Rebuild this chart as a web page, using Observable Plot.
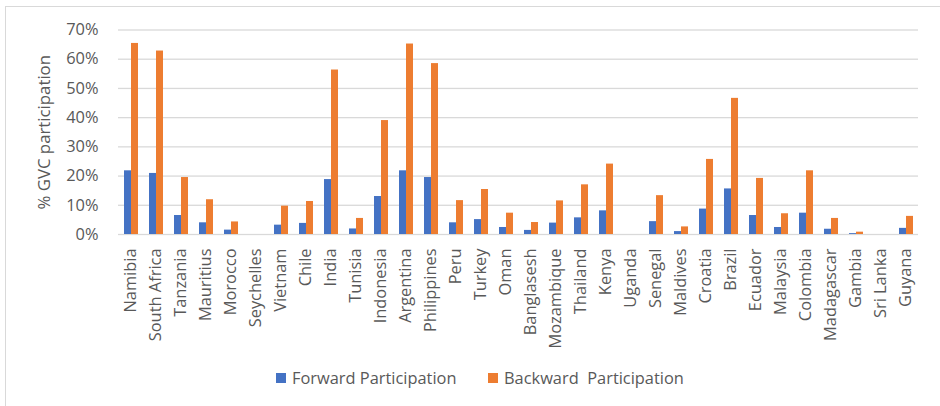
<!DOCTYPE html>
<html>
<head>
<meta charset="utf-8">
<script src="https://cdn.jsdelivr.net/npm/d3@7"></script>
<script src="https://cdn.jsdelivr.net/npm/@observablehq/plot@0.6"></script>
<style>
  html, body { margin: 0; padding: 0; background: #fff; width: 940px; height: 406px; overflow: hidden; }
  #frame { position: absolute; left: 5px; top: 6px; width: 1000px; height: 500px;
           border-left: 1.5px solid #d9d9d9; border-top: 1.5px solid #d9d9d9; }
  #chart { position: absolute; left: 0; top: 0; }
  #legend { position: absolute; left: 0; top: 366px; width: 940px;
            font-family: 'Open Sans', sans-serif; font-size: 16.4px; color: #595959; white-space: pre; }
  .item { display: flex; align-items: center; position: absolute; top: 0; }
  .sw { width: 10px; height: 10px; margin-right: 6px; }
</style>
</head>
<body>
<div id="frame"></div>
<div id="chart"></div>
<div id="legend"></div>
<script>
const countries = ["Namibia","South Africa","Tanzania","Mauritius","Morocco","Seychelles","Vietnam","Chile","India","Tunisia","Indonesia","Argentina","Philippines","Peru","Turkey","Oman","Banglasesh","Mozambique","Thailand","Kenya","Uganda","Senegal","Maldives","Croatia","Brazil","Ecuador","Malaysia","Colombia","Madagascar","Gambia","Sri Lanka","Guyana"];
const forward  = [21.8,20.9,6.5,4.0,1.5,0,3.2,3.8,18.8,1.9,13.0,21.8,19.5,4.0,5.1,2.4,1.4,3.9,5.7,8.1,0,4.4,1.0,8.7,15.6,6.5,2.4,7.3,1.8,0.3,0,2.1];
const backward = [65.4,62.8,19.5,11.9,4.3,0,9.7,11.3,56.3,5.5,39.0,65.2,58.5,11.6,15.4,7.3,4.1,11.5,17.0,24.1,0,13.3,2.6,25.7,46.6,19.2,7.1,21.8,5.5,0.8,0,6.2];
const seriesNames = ["Forward Participation", "Backward  Participation"];
const seriesColors = ["#4472C4", "#ED7D31"];
const yTicks = [0,10,20,30,40,50,60,70];
const yTitle = "% GVC participation";

const data = [];
countries.forEach((c, i) => {
  data.push({country: c, series: seriesNames[0], value: forward[i] / 100});
  data.push({country: c, series: seriesNames[1], value: backward[i] / 100});
});

const chart = Plot.plot({
  width: 940,
  height: 352,
  marginTop: 29.5,
  marginBottom: 118,
  marginLeft: 113,
  marginRight: 17,
  style: {fontFamily: "'Open Sans', sans-serif", fontSize: "16.4px", color: "#595959", background: "transparent"},
  fx: {domain: countries, padding: 0},
  x: {domain: seriesNames, paddingInner: 0, paddingOuter: 0.73, axis: null},
  y: {domain: [0, 0.7]},
  color: {domain: seriesNames, range: seriesColors},
  marks: [
    Plot.ruleY(yTicks.map(d => d / 100), {stroke: "#d9d9d9", strokeWidth: 1.3, strokeOpacity: 1}),
    Plot.barY(data, {fx: "country", x: "series", y: "value", fill: "series"}),
    Plot.axisY({ticks: yTicks.map(d => d / 100), tickFormat: d => Math.round(d * 100) + "%", tickSize: 0, tickPadding: 20,
      fontSize: 16.4, label: yTitle, labelArrow: "none", labelAnchor: "center", labelOffset: 80}),
    Plot.axisFx({anchor: "bottom", tickRotate: -90, tickSize: 0, tickPadding: 14, label: null, fontSize: 16.4})
  ]
});
chart.querySelectorAll("text").forEach(t => {
  if (t.textContent.includes("GVC")) {
    t.textContent = yTitle;
    t.style.fontSize = "16.8px";
  }
});
document.getElementById("chart").appendChild(chart);

const legend = document.getElementById("legend");
const lx = [276, 488];
seriesNames.forEach((s, i) => {
  const it = document.createElement("div");
  it.className = "item";
  it.style.left = lx[i] + "px";
  const sw = document.createElement("div");
  sw.className = "sw";
  sw.style.background = seriesColors[i];
  const tx = document.createElement("span");
  tx.textContent = s;
  it.appendChild(sw); it.appendChild(tx);
  legend.appendChild(it);
});
</script>
</body>
</html>
